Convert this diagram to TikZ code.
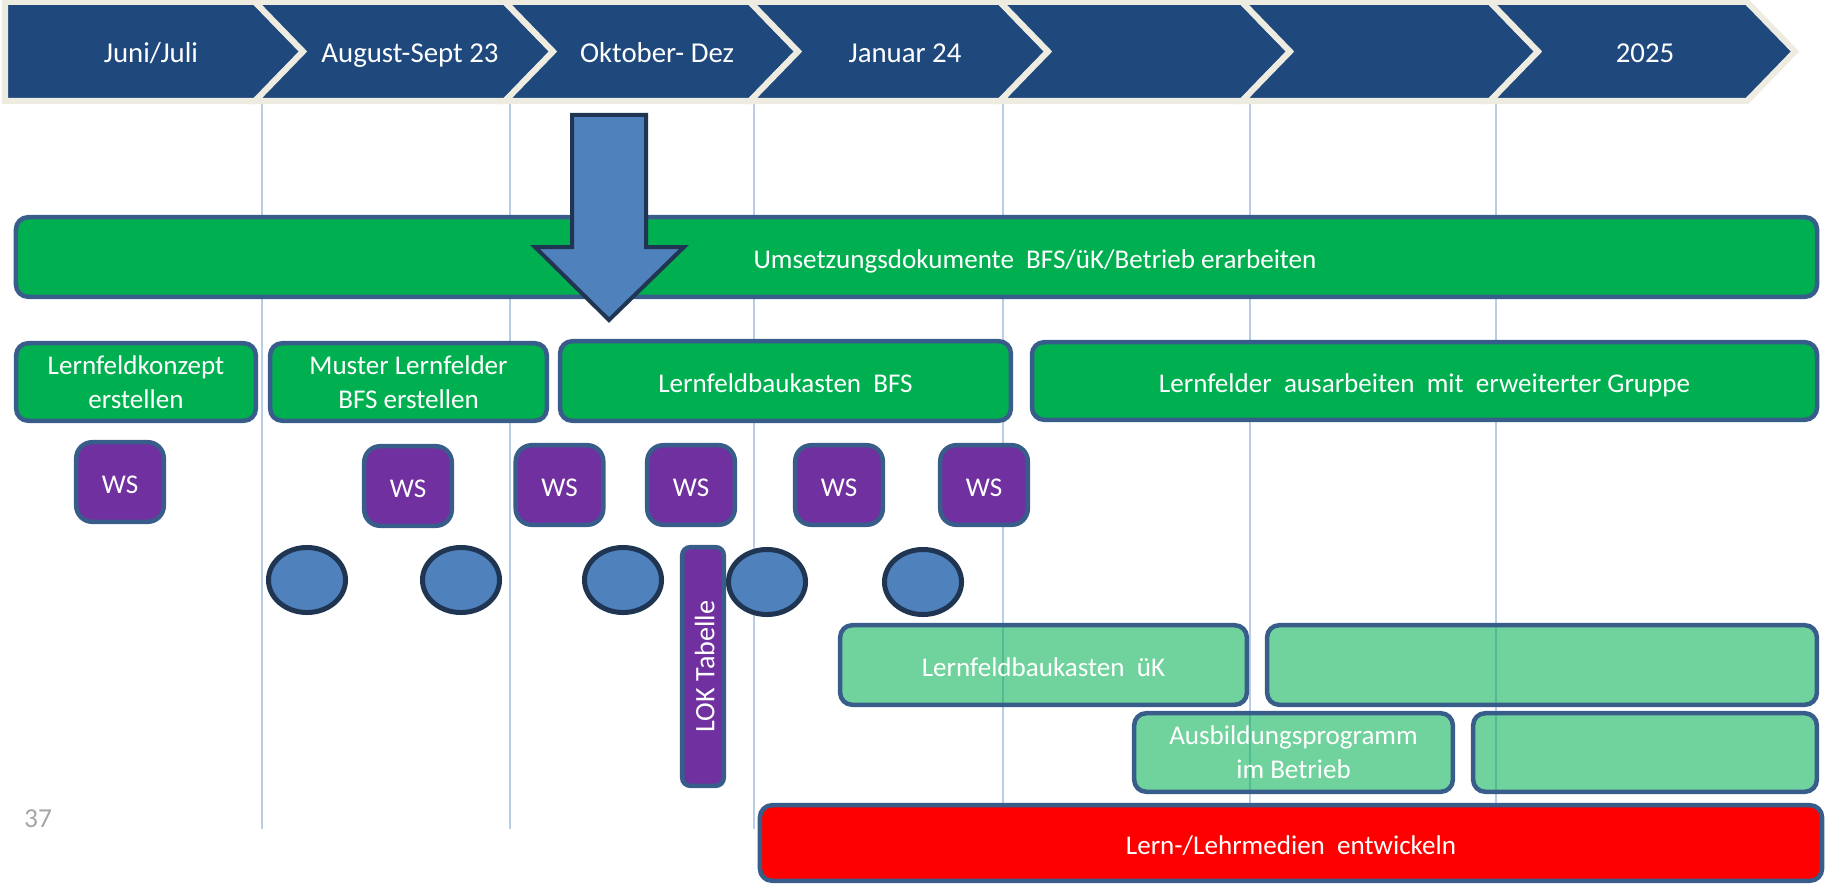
\documentclass[tikz,border=0pt]{standalone}
\usepackage{fontspec}
\setmainfont{Carlito}
\usetikzlibrary{shapes.geometric}
\definecolor{navy1}{RGB}{31,73,125}
\definecolor{beige1}{RGB}{238,236,225}
\definecolor{green1}{RGB}{0,176,80}
\definecolor{frame1}{RGB}{56,93,138}
\definecolor{purple1}{RGB}{112,48,160}
\definecolor{blue1}{RGB}{79,129,189}
\definecolor{darkblue1}{RGB}{31,53,82}
\definecolor{grid1}{RGB}{185,205,229}
\definecolor{red1}{RGB}{255,0,0}
\definecolor{gray1}{RGB}{166,166,166}

\begin{document}
\begin{tikzpicture}[x=0.01cm, y=-0.01cm,
  oneline/.style={text height=0.9em, text depth=0.26em},
  chevron/.style={fill=navy1, draw=beige1, line width=0.06cm, line join=miter},
  month/.style={oneline, text=white, font=\fontsize{8.2}{10}\selectfont},
  bar/.style={draw=frame1, line width=0.045cm, rounded corners=0.12cm, fill=green1, text=white, align=center, inner sep=0pt, font=\fontsize{7.7}{9.6}\selectfont},
  lightbar/.style={bar, fill opacity=0.56, text opacity=1},
  wsbox/.style={bar, oneline, fill=purple1, rounded corners=0.16cm, minimum width=0.875cm, minimum height=0.795cm},
  meeting/.style={ellipse, draw=darkblue1, line width=0.05cm, fill=blue1, minimum width=0.77cm, minimum height=0.65cm, inner sep=0pt},
  vline/.style={draw=grid1, line width=0.02cm}]
  \useasboundingbox (0,0) rectangle (1831,885);

  \foreach \x in {262,510,754,1003,1250,1496}
    \draw[vline] (\x,103) -- (\x,829);

  \draw[chevron] (5,2) -- (255,2) -- (303,51.5) -- (255,101) -- (5,101) -- cycle;
  \foreach \a/\b in {255/505,505/750,750/1000,1000/1242,1242/1490,1490/1747}
    \draw[chevron] (\a,2) -- (\b,2) -- (\b+48,51.5) -- (\b,101) -- (\a,101) -- (\a+48,51.5) -- cycle;
  \node[month] (juni) at (151,51) {Juni/Juli};
  \node[month] (august) at (410,51) {August-Sept 23};
  \node[month] (oktober) at (657,51) {Oktober- Dez};
  \node[month] (januar) at (905,51) {Januar 24};
  \node[month] (jahr2025) at (1645,51) {2025};

  \node[bar, minimum width=18cm, minimum height=0.795cm] (umsetzung) at (916.5,257) {};
  \node[bar, oneline, draw=none, fill=none] (umsetzung-text) at (1035,257) {Umsetzungsdokumente\ \ BFS/üK/Betrieb erarbeiten};
  \draw[fill=blue1, draw=darkblue1, line width=0.04cm, line join=miter]
    (572,115) -- (646,115) -- (646,247) -- (684,247) -- (609,320) -- (535,247) -- (572,247) -- cycle;

  \node[bar, minimum width=2.395cm, minimum height=0.775cm] (konzept) at (136,382) {Lernfeldkonzept\\erstellen};
  \node[bar, minimum width=2.765cm, minimum height=0.775cm] (muster) at (408.5,382) {Muster Lernfelder\\BFS erstellen};
  \node[bar, oneline, minimum width=4.505cm, minimum height=0.795cm] (baukastenbfs) at (785.5,381) {Lernfeldbaukasten\ \ BFS};
  \node[bar, oneline, minimum width=7.845cm, minimum height=0.775cm] (ausarbeiten) at (1424.5,381) {Lernfelder\ \ ausarbeiten\ \ mit\ \ erweiterter Gruppe};

  \node[wsbox] (ws1) at (120,482) {WS};
  \node[wsbox] (ws2) at (408,486) {WS};
  \node[wsbox] (ws3) at (559.5,485) {WS};
  \node[wsbox] (ws4) at (691,485) {WS};
  \node[wsbox] (ws5) at (839,485) {WS};
  \node[wsbox] (ws6) at (984,485) {WS};

  \node[meeting] (treffen1) at (307,580) {};
  \node[meeting] (treffen2) at (461,580) {};
  \node[meeting] (treffen3) at (623,580) {};
  \node[meeting] (treffen4) at (767,582) {};
  \node[meeting] (treffen5) at (923,582) {};

  \node[bar, oneline, fill=purple1, rounded corners=0.08cm, rotate=90, minimum width=2.385cm, minimum height=0.415cm, font=\fontsize{8}{10}\selectfont] (lok) at (703,666.5) {LOK Tabelle};

  \node[lightbar, oneline, minimum width=4.065cm, minimum height=0.795cm] (baukastenuek) at (1043.5,665) {Lernfeldbaukasten\ \ üK};
  \node[lightbar, minimum width=5.495cm, minimum height=0.795cm] (uekweiter) at (1542,665) {};
  \node[lightbar, minimum width=3.185cm, minimum height=0.785cm] (betrieb) at (1293.5,752.5) {Ausbildungsprogramm\\im Betrieb};
  \node[lightbar, minimum width=3.435cm, minimum height=0.785cm] (betriebweiter) at (1645,752.5) {};
  \node[bar, oneline, fill=red1, minimum width=10.615cm, minimum height=0.755cm] (medien) at (1291,843) {Lern-/Lehrmedien\ \ entwickeln};

  \node[oneline, text=gray1, font=\fontsize{7.8}{9}\selectfont] (seite) at (38,816) {37};
\end{tikzpicture}
\end{document}
